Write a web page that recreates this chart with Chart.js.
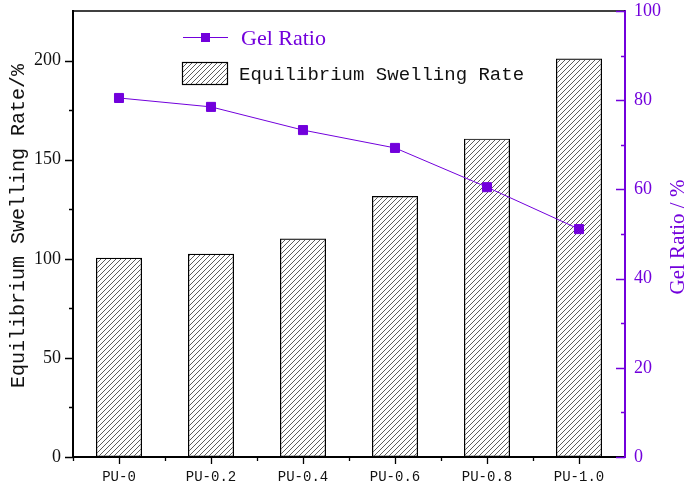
<!DOCTYPE html>
<html>
<head>
<meta charset="utf-8">
<script src="https://cdn.jsdelivr.net/npm/chart.js@4"></script>
<style>
  body { margin: 0; background: #fff; }
  #wrap { width: 687px; height: 494px; }
</style>
</head>
<body>
<div id="wrap"><canvas id="grafico"></canvas></div>
<script>
var categorias = ["PU-0", "PU-0.2", "PU-0.4", "PU-0.6", "PU-0.8", "PU-1.0"];
var hinchamiento = [100.5, 102.5, 110.2, 131.7, 160.6, 201.0];
var gel = [80.5, 78.5, 73.3, 69.3, 60.5, 51.1];
var ticksIzq = [0, 50, 100, 150, 200];
var ticksDer = [0, 20, 40, 60, 80, 100];

var morado = "#7200DC";
var monoFont = "'Liberation Mono', 'DejaVu Sans Mono', monospace";
var serifFont = "'Liberation Serif', 'DejaVu Serif', serif";

// patron de rayas diagonales para las barras
function crearRayado(){
    let c = document.createElement("canvas");
    c.width = 5; c.height = 5;
    let g = c.getContext("2d");
    g.strokeStyle = "#333";
    g.lineWidth = 0.8;
    g.beginPath();
    g.moveTo(0, 5); g.lineTo(5, 0);
    g.moveTo(-1, 1); g.lineTo(1, -1);
    g.moveTo(4, 6); g.lineTo(6, 4);
    g.stroke();
    return g.createPattern(c, "repeat");
}
var rayado = crearRayado();

// ticks menores, marco superior, titulos y leyenda
var extras = {
    id: "extras",
    afterDraw: function(chart){
        let ctx = chart.ctx;
        let a = chart.chartArea;
        let sx = chart.scales.x, sy = chart.scales.y, sy1 = chart.scales.y1;
        ctx.save();
        // marco superior
        ctx.strokeStyle = "#000";
        ctx.lineWidth = 1.5;
        ctx.beginPath();
        ctx.moveTo(a.left, a.top); ctx.lineTo(a.right, a.top);
        ctx.stroke();
        // ticks eje izquierdo
        ctx.lineWidth = 1.3;
        ctx.beginPath();
        for (let v = 0; v <= 200; v += 25){
            let y = Math.round(sy.getPixelForValue(v)) + 0.5;
            let l = (v % 50 === 0) ? 8 : 4;
            ctx.moveTo(a.left, y); ctx.lineTo(a.left - l, y);
        }
        // ticks eje x
        for (let i = 0; i < categorias.length; i++){
            let x = Math.round(sx.getPixelForValue(i)) + 0.5;
            ctx.moveTo(x, a.bottom); ctx.lineTo(x, a.bottom + 7);
            let xb = Math.round(sx.getPixelForValue(i) - (sx.getPixelForValue(1) - sx.getPixelForValue(0)) / 2) + 0.5;
            ctx.moveTo(xb, a.bottom); ctx.lineTo(xb, a.bottom + 4);
        }
        ctx.stroke();
        // ticks eje derecho (hacia adentro)
        ctx.strokeStyle = morado;
        ctx.beginPath();
        for (let v = 0; v <= 100; v += 10){
            let y = Math.round(sy1.getPixelForValue(v)) + 0.5;
            let l = (v % 20 === 0) ? 9 : 4;
            ctx.moveTo(a.right, y); ctx.lineTo(a.right - l, y);
        }
        ctx.stroke();
        // titulo izquierdo
        ctx.fillStyle = "#111";
        ctx.font = "20px " + monoFont;
        ctx.textAlign = "center";
        ctx.textBaseline = "middle";
        ctx.translate(19, 226);
        ctx.rotate(-Math.PI / 2);
        ctx.fillText("Equilibrium Swelling Rate/%", 0, 0);
        ctx.setTransform(1, 0, 0, 1, 0, 0);
        // titulo derecho
        ctx.fillStyle = morado;
        ctx.font = "21px " + serifFont;
        ctx.translate(678, 237);
        ctx.rotate(-Math.PI / 2);
        ctx.fillText("Gel Ratio / %", 0, 0);
        ctx.setTransform(1, 0, 0, 1, 0, 0);
        // leyenda
        ctx.strokeStyle = morado;
        ctx.lineWidth = 1;
        ctx.beginPath();
        ctx.moveTo(183, 37.5); ctx.lineTo(228, 37.5);
        ctx.stroke();
        ctx.fillRect(201, 33, 9, 9);
        ctx.textAlign = "left";
        ctx.font = "22px " + serifFont;
        ctx.fillText("Gel Ratio", 241, 39);
        ctx.fillStyle = rayado;
        ctx.fillRect(182, 62, 46, 23);
        ctx.strokeStyle = "#000";
        ctx.lineWidth = 1.2;
        ctx.strokeRect(182.5, 62.5, 45, 22);
        ctx.fillStyle = "#111";
        ctx.font = "19px " + monoFont;
        ctx.fillText("Equilibrium Swelling Rate", 239, 75);
        ctx.restore();
    }
};

var ctx = document.getElementById("grafico");
var data = {
    labels: categorias,
    datasets: [
        {
            type: "line",
            label: "Gel Ratio",
            data: gel,
            yAxisID: "y1",
            borderColor: morado,
            backgroundColor: morado,
            borderWidth: 1,
            pointStyle: "rect",
            pointRadius: 6.4,
            pointHoverRadius: 6.4,
            tension: 0,
            order: 0
        },
        {
            type: "bar",
            label: "Equilibrium Swelling Rate",
            data: hinchamiento,
            yAxisID: "y",
            backgroundColor: rayado,
            borderColor: "#000",
            borderWidth: 1.2,
            borderSkipped: false,
            categoryPercentage: 1,
            barPercentage: 0.5,
            order: 1
        }
    ]
};

function sinRelleno(s){
    s.paddingTop = 0; s.paddingBottom = 0; s.paddingLeft = 0; s.paddingRight = 0;
}

var myChart = new Chart(ctx, {
    data: data,
    options: {
        responsive: true,
        maintainAspectRatio: false,
        animation: false,
        layout: { padding: { top: 11, left: 0, right: 0, bottom: 0 } },
        plugins: { legend: { display: false }, tooltip: { enabled: false } },
        scales: {
            x: {
                offset: true,
                grid: { display: false, drawTicks: false },
                border: { color: "#000", width: 2 },
                ticks: { color: "#111", padding: 12, font: { family: monoFont, size: 14 } },
                afterFit: function(s){ s.height = 37; sinRelleno(s); }
            },
            y: {
                position: "left",
                min: 0,
                max: 225,
                grid: { display: false, drawTicks: false },
                border: { color: "#000", width: 2 },
                ticks: { stepSize: 50, color: "#111", padding: 12, font: { family: serifFont, size: 18 } },
                afterBuildTicks: function(s){ s.ticks = ticksIzq.map(function(v){ return { value: v }; }); },
                afterFit: function(s){ s.width = 73; sinRelleno(s); }
            },
            y1: {
                position: "right",
                min: 0,
                max: 100,
                grid: { display: false, drawTicks: false },
                border: { color: morado, width: 2 },
                ticks: { stepSize: 20, color: morado, padding: 9, font: { family: serifFont, size: 18 } },
                afterBuildTicks: function(s){ s.ticks = ticksDer.map(function(v){ return { value: v }; }); },
                afterFit: function(s){ s.width = 62; sinRelleno(s); }
            }
        }
    },
    plugins: [extras]
});
</script>
</body>
</html>
